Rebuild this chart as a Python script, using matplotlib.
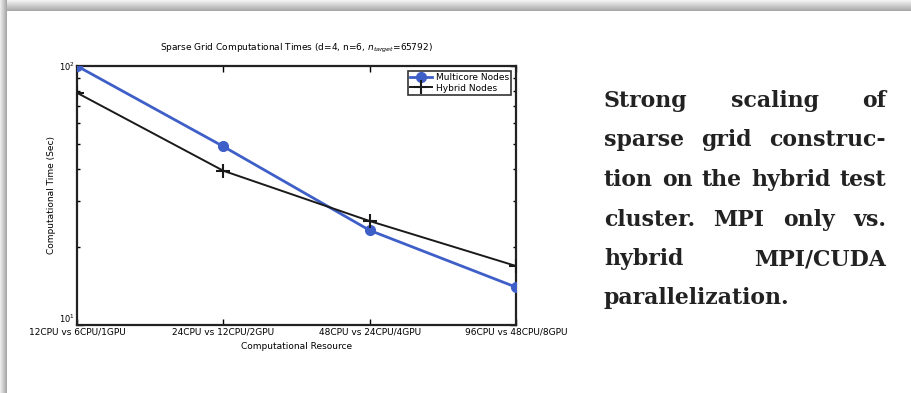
import numpy as np
import matplotlib
matplotlib.use("Agg")
import matplotlib.pyplot as plt
from matplotlib.ticker import NullFormatter, FixedLocator

# strong scaling timings, seconds
resources = [
    "12CPU vs 6CPU/1GPU",
    "24CPU vs 12CPU/2GPU",
    "48CPU vs 24CPU/4GPU",
    "96CPU vs 48CPU/8GPU",
]
multicore_times = [100.0, 48.9, 23.2, 14.0]
hybrid_times = [78.8, 39.4, 25.2, 16.9]

caption_lines = [
    "Strong scaling of",
    "sparse grid construc-",
    "tion on the hybrid test",
    "cluster.  MPI only vs.",
    "hybrid MPI/CUDA",
    "parallelization.",
]

W, H = 912, 393

fig = plt.figure(figsize=(W / 100, H / 100), dpi=100)
fig.patch.set_facecolor("white")

# slide shadow along the top and left edges
bg = fig.add_axes([0, 0, 1, 1], zorder=-5)
top = np.linspace(0.95, 0.66, 11)[:, None] * np.ones((1, W))
bg.imshow(top, cmap="gray", vmin=0, vmax=1, extent=(0, W, 11, 0), aspect="auto")
left = np.linspace(0.92, 0.66, 7)[None, :] * np.ones((H, 1))
bg.imshow(left, cmap="gray", vmin=0, vmax=1, extent=(0, 7, H, 0), aspect="auto")
bg.set_xlim(0, W)
bg.set_ylim(H, 0)
bg.axis("off")

ax = fig.add_axes([77 / W, 1 - 325 / H, (516 - 77) / W, (325 - 66) / H])
x = np.arange(len(resources))
ax.plot(x, multicore_times, color="#3f5fc8", lw=2.0, marker="o", ms=7,
        mfc="#3f5fc8", mec="#3f5fc8", label="Multicore Nodes", zorder=3)
ax.plot(x, hybrid_times, color="#1a1a1a", lw=1.4, marker="+", ms=10,
        mew=1.5, label="Hybrid Nodes", zorder=3)

ax.set_yscale("log")
ax.set_ylim(10, 100)
ax.set_xlim(0, 3)
ax.set_xticks(x)
ax.set_xticklabels(resources, fontsize=6.5)
ax.yaxis.set_major_locator(FixedLocator([10, 100]))
ax.yaxis.set_minor_locator(FixedLocator(list(range(20, 100, 10))))
ax.yaxis.set_minor_formatter(NullFormatter())
ylabels = ax.set_yticklabels([r"$10^1$", r"$10^2$"], fontsize=6)
ylabels[0].set_va("bottom")
ax.tick_params(which="both", direction="in", top=True, right=True, pad=1.5)
ax.tick_params(which="major", length=4, width=1)
ax.tick_params(which="minor", length=2.5, width=1)
for s in ax.spines.values():
    s.set_linewidth(1.6)
    s.set_color("#222222")

ax.set_title(r"Sparse Grid Computational Times (d=4, n=6, $n_{target}$=65792)",
             fontsize=6.5, pad=11)
ax.set_xlabel("Computational Resource", fontsize=6.5, labelpad=4)
ax.set_ylabel("Computational Time (Sec)", fontsize=6.5, labelpad=2)

leg = ax.legend(loc="upper right", fontsize=6.5, frameon=True, fancybox=False,
                borderpad=0.3, handlelength=2.4, handletextpad=0.4,
                borderaxespad=0.5, labelspacing=0.15)
leg.get_frame().set_edgecolor("black")
leg.get_frame().set_linewidth(1.2)

# justified caption to the right of the plot
x0, x1 = 604 / W, 886 / W
ys = [101, 140, 180, 220, 259, 298]
renderer = fig.canvas.get_renderer()
font = dict(family="DejaVu Serif", fontweight="bold", fontsize=15.8,
            color="#222222", va="center")
for i, (line, yp) in enumerate(zip(caption_lines, ys)):
    yf = 1 - yp / H
    words = line.split()
    if i == len(caption_lines) - 1 or len(words) == 1:
        fig.text(x0, yf, line, ha="left", **font)
        continue
    arts = [fig.text(0, yf, w, ha="left", **font) for w in words]
    widths = [a.get_window_extent(renderer).width / W for a in arts]
    gap = (x1 - x0 - sum(widths)) / (len(words) - 1)
    pos = x0
    for a, w in zip(arts, widths):
        a.set_x(pos)
        pos += w + gap

fig.savefig("out.png", dpi=100)
